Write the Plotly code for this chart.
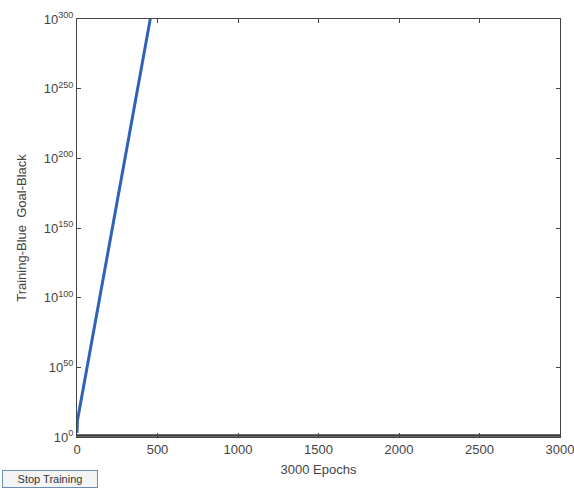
import plotly.graph_objects as go

# Data
train_epochs = [0, 3, 455]
train_perf = [1e3, 1e12, 1e300]
goal_epochs = [0, 3000]
goal_perf = [1e1, 1e1]
x_ticks = [0, 500, 1000, 1500, 2000, 2500, 3000]
y_exps = [0, 50, 100, 150, 200, 250, 300]
y_ticks = [10.0 ** e for e in y_exps]
y_ticktext = ["10<sup>%d</sup>" % e for e in y_exps]

fig = go.Figure()
fig.add_trace(go.Scatter(x=goal_epochs, y=goal_perf, mode="lines",
                         line=dict(color="#3a3a3a", width=2.5), showlegend=False))
fig.add_trace(go.Scatter(x=train_epochs, y=train_perf, mode="lines",
                         line=dict(color="#2f63b8", width=3), showlegend=False))

axis_common = dict(showline=True, linecolor="#444444", linewidth=1, mirror="ticks",
                   ticks="inside", ticklen=4, tickcolor="#444444", showgrid=False,
                   zeroline=False, automargin=False, ticklabeloverflow="allow",
                   tickfont=dict(family="Liberation Sans", size=13, color="#444444"))

fig.update_layout(
    width=574, height=491,
    margin=dict(l=77, r=14, t=19, b=54),
    paper_bgcolor="white", plot_bgcolor="white",
    xaxis=dict(range=[0, 3000], tickvals=x_ticks,
               title=dict(text="3000 Epochs", standoff=9,
                          font=dict(family="Liberation Sans", size=13, color="#444444")),
               **axis_common),
    yaxis=dict(type="log", range=[0, 300], tickvals=y_ticks, ticktext=y_ticktext,
               title=dict(text="Training-Blue  Goal-Black", standoff=14,
                          font=dict(family="Liberation Sans", size=13, color="#444444")),
               **axis_common),
    annotations=[dict(text="Stop Training", xref="paper", yref="paper",
                      x=-0.155, y=-0.10, xanchor="left", yanchor="middle", showarrow=False,
                      font=dict(family="Liberation Sans", size=11, color="#333333"),
                      bordercolor="#6a8fb5", borderwidth=1, borderpad=2, bgcolor="#f4f4f4",
                      width=90)],
)

fig.write_html("out.html", config={"displayModeBar": False},
               post_script="document.body.style.margin='0';document.body.style.overflow='hidden';")
